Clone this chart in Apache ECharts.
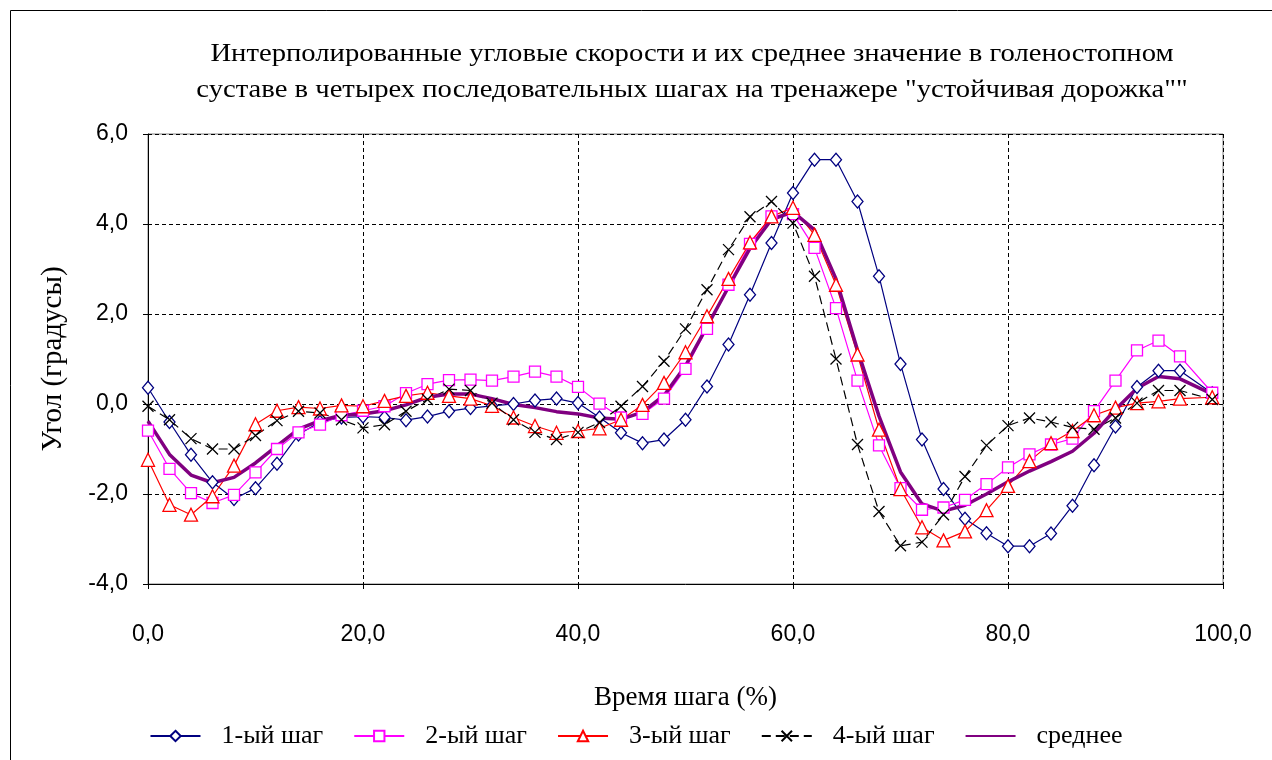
<!DOCTYPE html>
<html>
<head>
<meta charset="utf-8">
<script src="https://cdn.jsdelivr.net/npm/echarts@6/dist/echarts.min.js"></script>
<style>
  html, body { margin: 0; padding: 0; background: #fff; }
  #chart { width: 1272px; height: 760px; }
</style>
</head>
<body>
<div id="chart"></div>
<script>
// Step time, % of the gait cycle
const stepTime = [0, 2, 4, 6, 8, 10, 12, 14, 16, 18, 20, 22, 24, 26, 28, 30, 32, 34, 36, 38, 40, 42, 44, 46, 48,
  50, 52, 54, 56, 58, 60, 62, 64, 66, 68, 70, 72, 74, 76, 78, 80, 82, 84, 86, 88, 90, 92, 94, 96, 99];

// Interpolated angular velocities of the ankle joint for each step
const step1 = [0.36, -0.40, -1.13, -1.74, -2.11, -1.87, -1.33, -0.68, -0.40, -0.30, -0.28, -0.30, -0.36, -0.28, -0.16, -0.09, -0.04, 0.00, 0.08, 0.12, 0.02, -0.30, -0.64, -0.87, -0.79,
  -0.35, 0.39, 1.32, 2.43, 3.58, 4.69, 5.43, 5.43, 4.50, 2.84, 0.89, -0.79, -1.89, -2.55, -2.87, -3.16, -3.16, -2.88, -2.26, -1.36, -0.50, 0.38, 0.74, 0.74, 0.24];
const step2 = [-0.59, -1.44, -1.98, -2.20, -2.02, -1.52, -1.00, -0.63, -0.46, -0.25, -0.15, -0.05, 0.24, 0.44, 0.53, 0.54, 0.52, 0.61, 0.72, 0.61, 0.38, 0.01, -0.30, -0.22, 0.12,
  0.78, 1.67, 2.65, 3.56, 4.17, 4.22, 3.47, 2.13, 0.52, -0.92, -1.87, -2.35, -2.30, -2.13, -1.78, -1.41, -1.12, -0.90, -0.77, -0.16, 0.52, 1.19, 1.41, 1.06, 0.25];
const step3 = [-1.24, -2.24, -2.46, -2.05, -1.37, -0.45, -0.15, -0.07, -0.10, -0.03, -0.05, 0.07, 0.18, 0.25, 0.18, 0.12, -0.04, -0.30, -0.49, -0.64, -0.60, -0.54, -0.35, -0.02, 0.47,
  1.15, 1.95, 2.78, 3.59, 4.17, 4.36, 3.76, 2.65, 1.10, -0.57, -1.89, -2.74, -3.03, -2.83, -2.36, -1.82, -1.27, -0.87, -0.60, -0.25, -0.08, 0.02, 0.06, 0.12, 0.15];
const step4 = [-0.05, -0.35, -0.77, -1.00, -1.00, -0.70, -0.37, -0.16, -0.20, -0.35, -0.53, -0.46, -0.16, 0.10, 0.33, 0.30, 0.02, -0.35, -0.63, -0.79, -0.63, -0.41, -0.05, 0.39, 0.95,
  1.67, 2.54, 3.43, 4.16, 4.50, 4.02, 2.84, 1.00, -0.90, -2.39, -3.15, -3.07, -2.46, -1.61, -0.92, -0.48, -0.31, -0.40, -0.52, -0.56, -0.31, 0.02, 0.30, 0.30, 0.10];
const meanCurve = [-0.38, -1.12, -1.58, -1.75, -1.63, -1.31, -0.93, -0.56, -0.37, -0.25, -0.22, -0.15, -0.02, 0.15, 0.22, 0.22, 0.12, -0.01, -0.08, -0.17, -0.22, -0.31, -0.34, -0.18, 0.19,
  0.85, 1.72, 2.60, 3.46, 4.10, 4.27, 3.87, 2.78, 1.20, -0.27, -1.51, -2.22, -2.38, -2.25, -2.00, -1.73, -1.49, -1.28, -1.05, -0.65, -0.12, 0.35, 0.61, 0.56, 0.22];

const seriesNames = ['1-ый шаг', '2-ый шаг', '3-ый шаг', '4-ый шаг', 'среднее'];
const titleLines = [
  'Интерполированные угловые скорости и их среднее значение в голеностопном',
  'суставе в четырех последовательных шагах на тренажере "устойчивая дорожка""'
];
const xAxisTitle = 'Время шага (%)';
const yAxisTitle = 'Угол (градусы)';

const pair = arr => stepTime.map((t, i) => [t, arr[i]]);
const fmt = v => v.toFixed(1).replace('.', ',');
const SERIF = '"Liberation Serif", "Times New Roman", serif';
const SANS = '"Liberation Sans", Arial, sans-serif';
const crossPath = 'path://M0,0L10,10M10,0L0,10';

function markerSeries(name, data, color, symbol, size, dashed) {
  return {
    name: name,
    type: 'line',
    data: pair(data),
    symbol: symbol,
    symbolSize: size,
    showAllSymbol: true,
    lineStyle: { color: color, width: 1.2, type: dashed ? [9, 5] : 'solid' },
    itemStyle: { color: symbol === crossPath ? 'rgba(0,0,0,0)' : '#ffffff', borderColor: color, borderWidth: 1.3 },
    emphasis: { disabled: true },
    animation: false
  };
}

const chart = echarts.init(document.getElementById('chart'), null, { renderer: 'canvas' });
chart.setOption({
  backgroundColor: '#ffffff',
  animation: false,
  graphic: [
    { type: 'rect', shape: { x: 10.5, y: 10.5, width: 1300, height: 800 }, style: { fill: 'none', stroke: '#000', lineWidth: 1 }, z: -1 },
    { type: 'text', x: 692, y: 36, scaleX: 1.146, style: { text: titleLines.join('\n'), font: '25px ' + SERIF, fill: '#000', textAlign: 'center', lineHeight: 36 } }
  ],
  grid: { left: 148, top: 134, right: 49, bottom: 176, show: true, borderColor: '#808080', borderWidth: 1 },
  legend: {
    top: 718,
    left: 'center',
    itemWidth: 50,
    itemHeight: 13,
    itemGap: 30,
    textStyle: { fontFamily: SERIF, fontSize: 26, color: '#000', padding: [0, 0, 0, 16] },
    data: seriesNames.slice(0, 4).concat([{ name: seriesNames[4], itemStyle: { opacity: 0 } }])
  },
  xAxis: {
    type: 'value', min: 0, max: 100, interval: 20,
    name: xAxisTitle, nameLocation: 'middle', nameGap: 100,
    nameTextStyle: { fontFamily: SERIF, fontSize: 27, color: '#000' },
    axisLine: { onZero: false, lineStyle: { color: '#000', width: 1 } },
    axisTick: { show: true, inside: false, length: 5, lineStyle: { color: '#000' } },
    axisLabel: { formatter: fmt, fontFamily: SANS, fontSize: 23, color: '#000', margin: 39 },
    splitLine: { show: true, lineStyle: { color: '#000', type: [4, 3], width: 1 } }
  },
  yAxis: {
    type: 'value', min: -4, max: 6, interval: 2,
    name: yAxisTitle, nameLocation: 'middle', nameGap: 80,
    nameTextStyle: { fontFamily: SERIF, fontSize: 29, color: '#000' },
    axisLine: { show: true, lineStyle: { color: '#000', width: 1 } },
    axisTick: { show: true, inside: false, length: 5, lineStyle: { color: '#000' } },
    axisLabel: { formatter: fmt, fontFamily: SANS, fontSize: 23, color: '#000', margin: 20 },
    splitLine: { show: true, lineStyle: { color: '#000', type: [4, 3], width: 1 } }
  },
  series: [
    markerSeries(seriesNames[0], step1, '#000080', 'diamond', [11, 13], false),
    markerSeries(seriesNames[1], step2, '#ff00ff', 'rect', 11, false),
    markerSeries(seriesNames[2], step3, '#ff0000', 'triangle', 13, false),
    markerSeries(seriesNames[3], step4, '#000000', crossPath, 11, true),
    {
      name: seriesNames[4], type: 'line', data: pair(meanCurve), symbol: 'none',
      lineStyle: { color: '#800080', width: 3.5 }, itemStyle: { color: '#800080' },
      emphasis: { disabled: true }, animation: false
    }
  ]
});
</script>
</body>
</html>
